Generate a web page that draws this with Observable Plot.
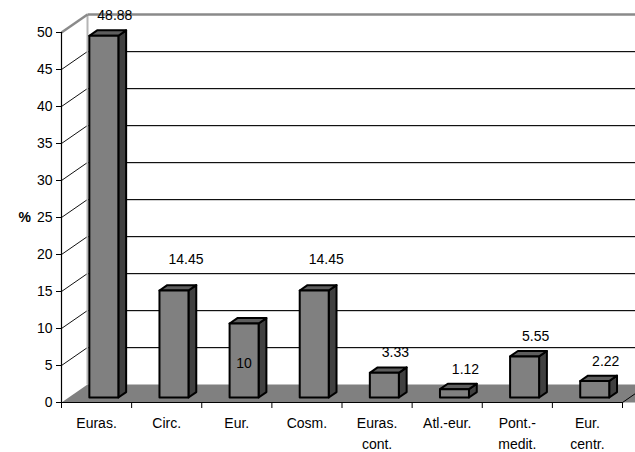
<!DOCTYPE html>
<html>
<head>
<meta charset="utf-8">
<script src="https://cdn.jsdelivr.net/npm/d3@7"></script>
<script src="https://cdn.jsdelivr.net/npm/@observablehq/plot@0.6"></script>
<style>
  html, body { margin: 0; padding: 0; background: #fff; overflow: hidden; }
  #chart svg { display: block; }
</style>
</head>
<body>
<div id="chart"></div>
<script>
// ---- data ----
const categories = ["Euras.", "Circ.", "Eur.", "Cosm.", "Euras.\ncont.", "Atl.-eur.", "Pont.-\nmedit.", "Eur.\ncentr."];
const values = [48.88, 14.45, 10, 14.45, 3.33, 1.12, 5.55, 2.22];
const valueLabels = ["48.88", "14.45", "10", "14.45", "3.33", "1.12", "5.55", "2.22"];
const yTicks = [0, 5, 10, 15, 20, 25, 30, 35, 40, 45, 50];
const yLabel = "%";

// ---- layout ----
const W = 635, H = 452, mL = 61, mR = 13, mT = 32, mB = 50;
const n = categories.length;
const yMax = 50;
const pxX = (W - mL - mR) / n;        // pixels per category
const pxY = (H - mT - mB) / yMax;     // pixels per unit
const DX = 26 / pxX, DY = 18 / pxY;   // depth of the 3D box in data units
const f = 0.28;                        // depth position of bar front face
const bw = 29 / pxX;                   // bar width
const bd = 0.3;                        // bar depth fraction
const xEnd = n + DX + 0.5;             // back wall extends past the right edge

const rows = categories.map((c, i) => ({c, i, v: values[i], label: valueLabels[i]}));

// back wall gridlines + side-wall diagonals
const inner = yTicks.filter(t => t > 0 && t < yMax);
const backLines = inner.map(t => ({x1: DX, y1: t + DY, x2: xEnd, y2: t + DY}));
const sideLines = inner.map(t => ({x1: 0, y1: t, x2: DX, y2: t + DY}));
const topEdge = [
  {x1: 0, y1: yMax, x2: DX, y2: yMax + DY},
  {x1: DX, y1: yMax + DY, x2: xEnd, y2: yMax + DY}
];

// floor polygon
const floor = [
  {x: 0, y: 0}, {x: DX, y: DY}, {x: xEnd, y: DY}, {x: xEnd - DX, y: 0}
];

// bar polygons
const fronts = [], tops = [], sides = [];
rows.forEach(r => {
  const cx = r.i + 0.5 + f * DX;
  const x1 = cx - bw / 2, x2 = cx + bw / 2;
  const y0 = f * DY, y1 = r.v + f * DY;
  const ox = bd * DX, oy = bd * DY;
  const push = (arr, pts) => { pts.push(pts[0]); pts.forEach(p => arr.push({k: r.i, x: p[0], y: p[1]})); };
  push(fronts, [[x1, y0], [x1, y1], [x2, y1], [x2, y0]]);
  push(tops, [[x1, y1], [x1 + ox, y1 + oy], [x2 + ox, y1 + oy], [x2, y1]]);
  push(sides, [[x2, y0], [x2, y1], [x2 + ox, y1 + oy], [x2 + ox, y0 + oy]]);
});

const labelPos = rows.map(r => ({...r, lx: r.i + 0.5 + f * DX, ly: r.v + f * DY}));
const bounds = d3.range(n + 1);

const font = "'Liberation Sans', Arial, sans-serif";
const fs = 14;
const poly = (data, fill) => Plot.line(data, {x: "x", y: "y", z: "k", fill, stroke: "#000", strokeWidth: 2, strokeLinejoin: "round"});

const chart = Plot.plot({
  width: W, height: H,
  marginLeft: mL, marginRight: mR, marginTop: mT, marginBottom: mB,
  style: {fontFamily: font, fontSize: fs + "px", color: "#000", background: "#fff", overflow: "hidden"},
  x: {type: "linear", domain: [0, n], axis: null},
  y: {type: "linear", domain: [0, yMax], axis: null},
  marks: [
    // walls
    Plot.link(backLines, {x1: "x1", y1: "y1", x2: "x2", y2: "y2", stroke: "#cfcfcf", strokeWidth: 1, dy: 1}),
    Plot.link(backLines, {x1: "x1", y1: "y1", x2: "x2", y2: "y2", stroke: "#111", strokeWidth: 1.2}),
    Plot.link(sideLines, {x1: "x1", y1: "y1", x2: "x2", y2: "y2", stroke: "#111", strokeWidth: 1}),
    Plot.link([{x1: DX, y1: DY, x2: DX, y2: yMax + DY}], {x1: "x1", y1: "y1", x2: "x2", y2: "y2", stroke: "#b5b5b5", strokeWidth: 2}),
    Plot.link(topEdge, {x1: "x1", y1: "y1", x2: "x2", y2: "y2", stroke: "#8a8a8a", strokeWidth: 2.5}),
    // floor
    Plot.line(floor, {x: "x", y: "y", fill: "#808080", stroke: "none"}),
    Plot.link([{x1: n, y1: 0, x2: n + DX, y2: DY}], {x1: "x1", y1: "y1", x2: "x2", y2: "y2", stroke: "#000", strokeWidth: 1}),
    // bars
    poly(sides, "#404040"),
    poly(tops, "#5e5e5e"),
    poly(fronts, "#808080"),
    // axes
    Plot.ruleX([0], {y1: 0, y2: yMax, stroke: "#000", strokeWidth: 1.2}),
    Plot.ruleY([0], {x1: 0, x2: n, stroke: "#000", strokeWidth: 1.2}),
    Plot.axisY(yTicks, {tickSize: 5, tickPadding: 4, fontSize: fs, stroke: "#000"}),
    Plot.axisX(bounds, {tickSize: 6, tickFormat: () => "", stroke: "#000"}),
    Plot.text(rows, {x: d => d.i + 0.5, y: 0, text: "c", lineAnchor: "top", dy: 11, lineHeight: 1.5, fontSize: fs, fill: "#000"}),
    Plot.text([yLabel], {frameAnchor: "left", y: yMax / 2, text: d => d, dx: -43, fontWeight: "bold", fontSize: fs, fill: "#000"}),
    // value labels
    Plot.text(labelPos.filter(d => !["Circ.", "Cosm.", "Eur."].includes(d.c)), {x: "lx", y: "ly", text: "label", dx: 11, dy: -20, fontSize: fs, fill: "#000"}),
    Plot.text(labelPos.filter(d => ["Circ.", "Cosm."].includes(d.c)), {x: "lx", y: "ly", text: "label", dx: 12, dy: -31, fontSize: fs, fill: "#000"}),
    Plot.text(labelPos.filter(d => d.c === "Eur."), {x: "lx", y: "ly", text: "label", dx: 0, dy: 40, fontSize: fs, fill: "#000"})
  ]
});
document.getElementById("chart").append(chart);
</script>
</body>
</html>
